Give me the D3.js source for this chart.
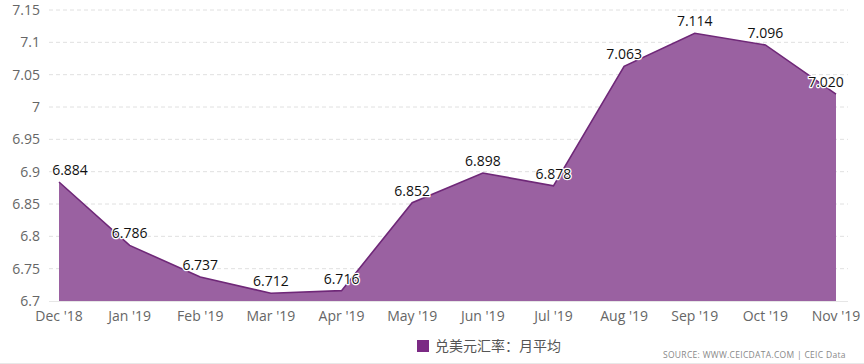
<!DOCTYPE html>
<html><head><meta charset="utf-8">
<script src="https://cdn.jsdelivr.net/npm/d3@7/dist/d3.min.js"></script>
<style>
html,body{margin:0;padding:0;background:#fff;}
svg{display:block;font-family:"Open Sans","Noto Sans",sans-serif;}
</style></head><body>
<svg id="c" width="864" height="364"></svg>
<script>
const categories = ["Dec '18","Jan '19","Feb '19","Mar '19","Apr '19","May '19","Jun '19","Jul '19","Aug '19","Sep '19","Oct '19","Nov '19"];
const values = [6.884,6.786,6.737,6.712,6.716,6.852,6.898,6.878,7.063,7.114,7.096,7.020];
const labels = ["6.884","6.786","6.737","6.712","6.716","6.852","6.898","6.878","7.063","7.114","7.096","7.020"];
const yTicks = [6.7,6.75,6.8,6.85,6.9,6.95,7,7.05,7.1,7.15];
const yTickLabels = ["6.7","6.75","6.8","6.85","6.9","6.95","7","7.05","7.1","7.15"];
const seriesName = "兑美元汇率：月平均";
const source = "SOURCE: WWW.CEICDATA.COM | CEIC Data";

const svg = d3.select("#c");
const x = d3.scalePoint().domain(categories).range([59,836]);
const y = d3.scaleLinear().domain([6.7,7.15]).range([301,10]);

svg.append("g").selectAll("line").data(yTicks.slice(1)).join("line")
  .attr("x1",49).attr("x2",848)
  .attr("y1",d=>y(d)).attr("y2",d=>y(d))
  .attr("stroke","#e0e0e0").attr("stroke-width",1).attr("stroke-dasharray","4,3");

const pts = categories.map((c,i)=>({c,v:values[i],l:labels[i]}));
svg.append("path").datum(pts)
  .attr("d", d3.area().x(d=>x(d.c)).y0(y(6.7)).y1(d=>y(d.v)))
  .attr("fill","#9a61a1");
svg.append("path").datum(pts)
  .attr("d", d3.line().x(d=>x(d.c)).y(d=>y(d.v)))
  .attr("fill","none").attr("stroke","#6f2878").attr("stroke-width",1.6);

svg.append("line").attr("x1",49).attr("x2",848).attr("y1",y(6.7)+0.5).attr("y2",y(6.7)+0.5)
  .attr("stroke","#e6e6e6");

svg.append("g").selectAll("text").data(yTicks).join("text")
  .attr("x",40).attr("y",d=>y(d)+5)
  .attr("text-anchor","end").attr("font-size",14).attr("fill","#666")
  .text((d,i)=>yTickLabels[i]);

svg.append("g").selectAll("text").data(categories).join("text")
  .attr("x",d=>x(d)).attr("y",321)
  .attr("text-anchor","middle").attr("font-size",14).attr("fill","#666")
  .text(d=>d);

const dl = svg.append("g");
pts.forEach(p=>{
  let cx = x(p.c);
  const w = 36;
  cx = Math.max(52 + w/2, Math.min(844 - w/2, cx));
  dl.append("text").attr("x",cx).attr("y",y(p.v)-7)
    .attr("text-anchor","middle").attr("font-size",14).attr("fill","#111")
    .attr("stroke","#fff").attr("stroke-width",2.5).attr("stroke-linejoin","round")
    .attr("paint-order","stroke")
    .text(p.l);
});

svg.append("rect").attr("x",417).attr("y",340).attr("width",12).attr("height",12).attr("fill","#7b2a84");
svg.append("text").attr("x",435).attr("y",351).attr("font-size",14).attr("fill","#555")
  .attr("font-family","'Noto Sans CJK SC','Open Sans',sans-serif").text(seriesName);

svg.append("text").attr("x",663).attr("y",358).attr("font-size",8.5).attr("fill","#888")
  .attr("letter-spacing",0.3).text(source);

svg.append("line").attr("x1",0).attr("x2",864).attr("y1",363.5).attr("y2",363.5).attr("stroke","#e8e8e8");
</script>
</body></html>
